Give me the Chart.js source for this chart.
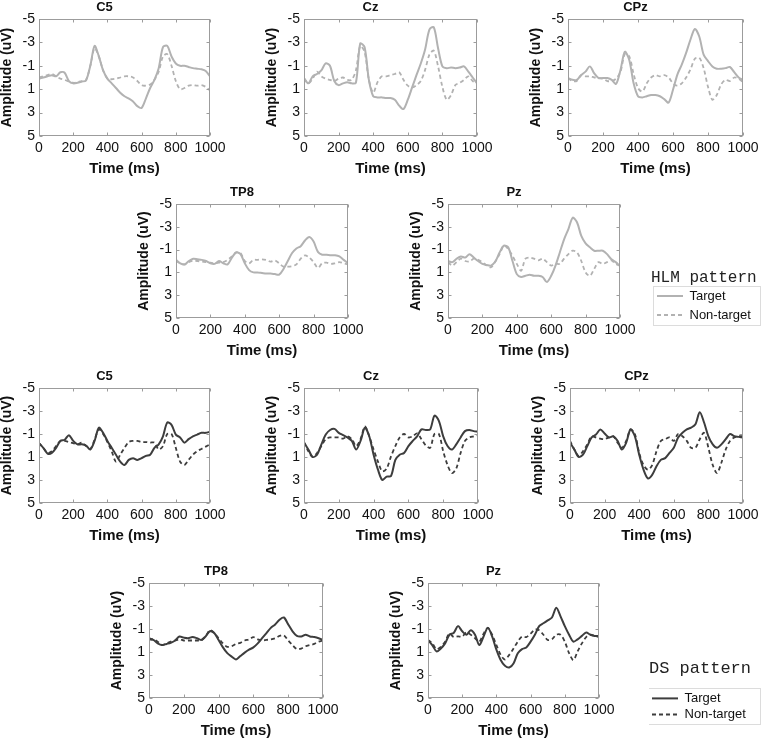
<!DOCTYPE html>
<html>
<head>
<meta charset="utf-8">
<script src="https://cdn.jsdelivr.net/npm/chart.js@4.4.1/dist/chart.umd.min.js"></script>
<style>
  html, body { margin: 0; padding: 0; background: #fff; overflow: hidden; }
  #page { position: relative; width: 761px; height: 739px; }
  #page canvas { position: absolute; }
</style>
</head>
<body>
<div id="page"></div>
<script>
// ---- data ----
const timeMs = [0,25,50,75,100,125,150,175,200,225,250,275,300,325,350,375,400,425,450,475,500,
                525,550,575,600,625,650,675,700,725,750,775,800,825,850,875,900,925,950,975,1000];
const ampTicks = [-5, -3, -1, 1, 3, 5];
const timeTicks = [0, 200, 400, 600, 800, 1000];

// HLM pattern
const hlmC5Target     = [0.1,0.0,-0.1,-0.2,-0.1,-0.45,-0.4,0.3,0.5,0.45,0.35,0.25,-1.0,-2.7,-1.8,-0.6,0.1,0.5,0.9,1.3,1.6,1.8,2.05,2.45,2.6,1.8,0.9,0.2,-0.8,-2.6,-2.7,-1.8,-1.2,-1.0,-1.0,-0.9,-0.8,-0.75,-0.7,-0.55,-0.1];
const hlmC5NonTarget  = [0.0,-0.1,-0.2,-0.3,-0.1,0.1,0.2,0.35,0.45,0.4,0.3,0.2,-1.0,-2.5,-1.8,-0.6,0.1,0.15,0.1,0.0,-0.1,-0.1,0.0,0.3,0.65,0.7,0.6,0.2,-0.5,-1.8,-2.0,-1.0,0.3,1.0,0.9,0.7,0.65,0.7,0.65,0.8,1.1];
const hlmCzTarget     = [0.05,0.5,-0.1,-0.3,-0.6,-1.2,-1.0,0.3,0.65,0.5,0.4,0.5,0.45,-2.9,-2.6,0.2,1.6,1.7,1.7,1.75,1.75,1.9,2.4,2.7,1.9,0.85,-0.2,-1.2,-2.4,-4.1,-4.3,-2.5,-0.95,-0.8,-0.85,-0.8,-0.85,-0.95,-0.5,0.0,0.5];
const hlmCzNonTarget  = [0.1,0.5,0.1,-0.5,-0.1,0.1,0.2,0.3,0.1,0.0,0.2,0.2,-0.6,-2.7,-2.2,0.2,1.3,0.4,-0.1,-0.1,-0.2,-0.3,-0.45,0.2,0.7,0.85,0.65,0.3,-0.65,-1.95,-2.3,-0.95,0.8,1.9,1.5,0.65,0.45,0.2,-0.1,0.3,0.5];
const hlmCPzTarget    = [0.05,0.2,0.2,-0.2,-0.5,-0.95,-0.35,0.05,0.05,0.05,0.2,0.55,-0.65,-2.2,-1.5,0.5,1.6,1.7,1.6,1.5,1.5,1.6,1.85,2.15,1.05,-0.25,-1.1,-2.1,-3.25,-4.15,-3.5,-1.95,-1.4,-0.95,-0.75,-0.75,-0.8,-0.9,-0.45,0.0,0.2];
const hlmCPzNonTarget = [0.05,0.3,0.3,-0.2,-0.1,-0.1,0.0,0.05,0.1,0.3,0.3,0.1,-0.5,-2.0,-1.8,-0.3,0.9,1.2,0.5,0.0,-0.2,-0.1,-0.2,0.0,0.5,0.7,0.5,0.0,-0.7,-1.6,-1.7,-0.8,0.8,1.9,1.5,0.6,0.2,0.3,0.0,0.1,0.4];
const hlmTP8Target    = [-0.1,0.2,0.3,0.0,-0.2,-0.15,-0.1,0.0,0.2,0.25,0.0,0.2,0.3,-0.3,-0.75,-0.6,0.2,0.8,1.0,1.0,1.05,1.1,1.1,1.15,1.2,0.7,0.0,-0.7,-1.1,-1.3,-1.8,-2.1,-1.7,-0.8,-0.55,-0.55,-0.5,-0.5,-0.4,-0.1,0.2];
const hlmTP8NonTarget = [0.0,0.2,0.3,0.1,-0.05,0.0,0.05,0.1,0.15,0.2,0.15,0.1,-0.1,-0.4,-0.75,-0.7,0.0,0.2,-0.1,-0.1,-0.15,-0.1,0.05,-0.05,0.2,0.5,0.5,0.45,0.3,-0.2,-0.5,-0.3,0.1,0.6,0.2,0.15,0.25,0.2,0.1,0.2,0.3];
const hlmPzTarget     = [0.0,0.1,-0.2,-0.4,-0.3,-0.6,-0.3,0.0,0.25,0.35,0.4,0.05,-0.75,-1.35,-1.2,0.0,1.15,1.4,1.3,1.2,1.3,1.3,1.4,1.85,1.3,0.4,-0.75,-1.9,-2.8,-3.8,-3.4,-2.2,-1.55,-1.2,-0.9,-0.9,-0.9,-0.6,-0.15,0.1,0.45];
const hlmPzNonTarget  = [0.1,0.4,0.1,-0.2,0.0,0.05,-0.2,-0.1,0.1,0.4,0.55,0.05,-0.6,-1.35,-1.05,-0.45,0.25,0.85,-0.2,-0.3,-0.2,-0.05,-0.2,0.1,0.4,0.25,0.25,-0.2,-0.6,-0.9,-0.75,0.0,1.0,1.3,0.7,0.1,0.25,0.1,-0.05,0.25,0.4];

// DS pattern
const dsC5Target      = [-0.2,0.2,0.7,0.65,0.2,-0.4,-0.5,-0.9,-0.4,-0.1,-0.1,0.0,0.35,-0.4,-1.55,-1.1,-0.4,0.2,0.8,1.4,1.7,1.25,1.1,1.25,1.1,0.9,0.8,0.2,-0.1,-0.8,-2.0,-1.8,-0.95,-0.7,-0.25,-0.55,-0.8,-0.95,-1.1,-1.1,-1.2];
const dsC5NonTarget   = [-0.2,0.2,0.65,0.5,0.05,-0.4,-0.4,-0.3,-0.2,-0.1,-0.25,0.05,0.3,-0.5,-1.4,-1.0,-0.3,0.5,1.4,0.8,0.2,-0.3,-0.4,-0.4,-0.3,-0.3,-0.25,-0.25,0.35,0.05,-1.0,-1.0,0.2,1.4,1.7,1.25,0.8,0.5,0.3,0.1,-0.1];
const dsCzTarget      = [-0.25,0.35,1.0,0.8,-0.1,-0.95,-1.35,-1.45,-1.1,-0.9,-0.7,-0.4,0.35,-0.4,-1.55,-0.8,0.8,2.1,3.0,2.7,2.65,1.25,0.8,0.65,0.05,-0.4,-0.8,-1.4,-1.35,-1.4,-2.6,-2.15,-0.8,0.05,0.35,-0.1,-0.7,-1.25,-1.35,-1.25,-1.2];
const dsCzNonTarget   = [-0.3,0.5,1.0,0.65,0.05,-0.55,-0.7,-0.7,-0.7,-0.6,-0.8,-0.55,0.05,-0.55,-1.65,-0.8,0.35,1.4,2.25,2.0,0.95,0.05,-0.7,-1.0,-0.7,-0.8,-1.05,-0.55,0.0,0.2,-1.0,-1.0,0.5,1.7,2.4,2.0,0.65,-0.4,-0.7,-0.8,-0.9];
const dsCPzTarget     = [-0.25,0.35,1.0,0.8,0.05,-0.7,-0.95,-1.4,-1.05,-0.7,-0.8,-0.4,0.35,-0.25,-1.4,-0.8,0.8,2.1,2.85,2.55,1.8,1.25,1.1,0.65,0.2,-0.7,-1.1,-1.4,-1.55,-1.85,-2.9,-2.0,-0.8,-0.1,0.2,-0.1,-0.55,-1.0,-0.8,-0.75,-0.7];
const dsCPzNonTarget  = [-0.4,0.35,0.9,0.5,-0.1,-0.8,-0.7,-0.6,-0.55,-0.7,-0.8,-0.25,0.2,-0.4,-1.4,-1.0,0.65,1.7,2.1,1.7,0.5,-0.4,-0.55,-0.7,-0.4,-1.0,-0.8,-0.4,0.2,0.2,-0.55,-1.1,0.2,1.7,2.4,1.5,0.35,-0.4,-0.7,-0.8,-0.8];
const dsTP8Target     = [-0.1,-0.05,0.25,0.4,0.3,0.2,0.0,-0.35,-0.25,-0.2,-0.3,-0.2,-0.05,-0.35,-0.8,-0.65,-0.05,0.6,1.1,1.4,1.65,1.35,1.05,0.8,0.6,0.25,-0.2,-0.65,-1.1,-1.4,-1.8,-2.0,-1.4,-0.8,-0.4,-0.35,-0.5,-0.35,-0.3,-0.2,-0.05];
const dsTP8NonTarget  = [-0.2,-0.1,0.1,0.4,0.25,0.1,0.0,-0.1,0.0,0.0,0.0,0.0,0.0,-0.35,-0.9,-0.65,-0.2,0.25,0.55,0.5,0.3,0.2,0.0,-0.1,-0.3,-0.1,0.0,-0.05,-0.1,-0.2,-0.4,-0.45,0.0,0.4,0.75,0.7,0.5,0.4,0.3,0.1,0.0];
const dsPzTarget      = [-0.05,0.4,0.95,0.7,0.25,-0.5,-0.65,-1.25,-0.8,-0.5,-0.9,-0.5,0.4,-0.35,-1.1,-0.35,0.8,1.7,2.2,2.35,2.0,1.1,0.75,0.6,0.1,-0.5,-1.25,-1.5,-1.75,-2.0,-2.85,-2.1,-1.25,-0.5,0.1,-0.1,-0.4,-0.7,-0.5,-0.4,-0.4];
const dsPzNonTarget   = [-0.05,0.25,0.75,0.55,0.1,-0.6,-0.3,-0.35,-0.35,-0.7,-0.5,-0.2,0.1,-0.6,-1.1,-0.5,0.4,1.25,1.65,1.25,0.7,0.1,-0.35,-0.3,-0.6,-0.95,-0.9,-0.5,-0.05,-0.1,-0.5,-0.5,0.1,1.1,1.7,0.95,0.25,-0.3,-0.5,-0.4,-0.3];

// ---- look ----
const HLM_GREY = '#b2b2b2';
const DS_GREY = '#3d3d3d';
const Y_AXIS_W = 40;   // room left of the plot box
const TITLE_H = 19;    // room above the plot box
const X_AXIS_H = 45;   // room below the plot box
const PAD_R = 22;      // room for the "1000" label

Chart.defaults.font.family = "'Liberation Sans', Arial, sans-serif";
Chart.defaults.color = '#111';

const page = document.getElementById('page');

// grey box round the plot with small inward ticks, matlab style
const plotFrame = {
  id: 'plotFrame',
  afterDatasetsDraw(chart) {
    const { ctx, chartArea: a, scales } = chart;
    const L = Math.round(a.left) + 0.5, T = Math.round(a.top) + 0.5;
    const R = Math.round(a.right) - 0.5, B = Math.round(a.bottom) - 0.5;
    ctx.save();
    ctx.strokeStyle = '#9c9c9c';
    ctx.lineWidth = 1;
    ctx.strokeRect(L, T, R - L, B - T);
    ctx.beginPath();
    scales.x.ticks.forEach(t => {
      const px = Math.round(scales.x.getPixelForValue(t.value)) + 0.5;
      ctx.moveTo(px, B); ctx.lineTo(px, B - 3);
      ctx.moveTo(px, T); ctx.lineTo(px, T + 3);
    });
    scales.y.ticks.forEach(t => {
      const py = Math.round(scales.y.getPixelForValue(t.value)) + 0.5;
      ctx.moveTo(L, py); ctx.lineTo(L + 3, py);
      ctx.moveTo(R, py); ctx.lineTo(R - 3, py);
    });
    ctx.stroke();
    ctx.restore();
  }
};

function makePanel(p) {
  const [l, t, r, b] = p.box;
  const canvas = document.createElement('canvas');
  canvas.width = (r - l) + Y_AXIS_W + PAD_R;
  canvas.height = (b - t) + TITLE_H + X_AXIS_H;
  canvas.style.left = (l - Y_AXIS_W) + 'px';
  canvas.style.top = (t - TITLE_H) + 'px';
  page.appendChild(canvas);

  const pts = vals => timeMs.map((x, i) => ({ x, y: vals[i] }));

  new Chart(canvas, {
    type: 'line',
    data: {
      datasets: [
        { label: 'Target', data: pts(p.target), borderColor: p.color, borderWidth: 2, pointRadius: 0, tension: 0.3 },
        { label: 'Non-target', data: pts(p.nonTarget), borderColor: p.color, borderWidth: 1.8, borderDash: [4, 3], pointRadius: 0, tension: 0.3 }
      ]
    },
    options: {
      responsive: false,
      animation: false,
      events: [],
      layout: { padding: { left: 0, right: PAD_R, top: 0, bottom: 0 } },
      plugins: {
        legend: { display: false },
        tooltip: { enabled: false },
        title: {
          display: true, text: p.title, color: '#111',
          font: { size: 13, weight: 'bold' },
          padding: { top: 0, bottom: 3.4 }
        }
      },
      scales: {
        x: {
          type: 'linear', min: 0, max: 1000,
          afterBuildTicks: s => { s.ticks = timeTicks.map(v => ({ value: v })); },
          afterFit: s => { s.height = X_AXIS_H; },
          grid: { display: false, drawTicks: false },
          border: { display: false },
          ticks: { padding: 4, font: { size: 14 }, color: '#111', maxRotation: 0, autoSkip: false, callback: v => String(v) },
          title: { display: true, text: 'Time (ms)', color: '#111', font: { size: 15, weight: 'bold' }, padding: { top: 0, bottom: 3 } }
        },
        y: {
          type: 'linear', reverse: true, min: -5, max: 5,
          afterBuildTicks: s => { s.ticks = ampTicks.map(v => ({ value: v })); },
          afterFit: s => { s.width = Y_AXIS_W; },
          grid: { display: false, drawTicks: false },
          border: { display: false },
          ticks: { padding: 4, font: { size: 14 }, color: '#111', callback: v => String(v) },
          title: { display: true, text: 'Amplitude (uV)', color: '#111', font: { size: 14, weight: 'bold' }, padding: { top: 0, bottom: 0 } }
        }
      }
    },
    plugins: [plotFrame]
  });
}

// light box round the legend entries
const legendFrame = {
  id: 'legendFrame',
  afterDraw(chart) {
    const boxes = chart.legend && chart.legend.legendHitBoxes;
    if (!boxes || !boxes.length) return;
    const top = Math.min(...boxes.map(h => h.top)) - 4;
    const bottom = Math.max(...boxes.map(h => h.top + h.height)) + 3;
    const left = Math.min(...boxes.map(h => h.left)) - 4;
    const right = chart.width - 1;
    const { ctx } = chart;
    ctx.save();
    ctx.strokeStyle = '#dcdcdc';
    ctx.lineWidth = 1;
    ctx.strokeRect(Math.round(left) + 0.5, Math.round(top) + 0.5, Math.round(right - left), Math.round(bottom - top));
    ctx.restore();
  }
};

function makeLegend(g) {
  const canvas = document.createElement('canvas');
  canvas.width = g.w; canvas.height = g.h;
  canvas.style.left = g.x + 'px';
  canvas.style.top = g.y + 'px';
  page.appendChild(canvas);
  new Chart(canvas, {
    type: 'line',
    data: {
      datasets: [
        { label: 'Target', data: [], borderColor: g.color, borderWidth: 2 },
        { label: 'Non-target', data: [], borderColor: g.color, borderWidth: 2, borderDash: [4, 3] }
      ]
    },
    options: {
      responsive: false,
      animation: false,
      events: [],
      layout: { padding: 0 },
      scales: { x: { display: false }, y: { display: false } },
      plugins: {
        tooltip: { enabled: false },
        legend: {
          display: true, position: 'top', align: 'start', maxHeight: 200, maxWidth: 200,
          title: {
            display: true, text: g.title, position: 'start', color: '#222',
            font: { family: "'Liberation Mono', 'DejaVu Sans Mono', monospace", size: g.titleSize, lineHeight: g.titleLine },
            padding: { top: 0, bottom: g.titleGap }
          },
          labels: {
            usePointStyle: true, pointStyle: 'line', pointStyleWidth: 26,
            font: { size: 13 }, color: '#111', padding: g.rowGap,
            generateLabels: chart => Chart.defaults.plugins.legend.labels.generateLabels(chart).map((item, i) => ({
              ...item,
              lineDash: chart.data.datasets[i].borderDash || [],
              lineWidth: 2,
              strokeStyle: g.color
            }))
          }
        }
      }
    },
    plugins: [legendFrame]
  });
}

const panels = [
  { title: 'C5',  target: hlmC5Target,  nonTarget: hlmC5NonTarget,  color: HLM_GREY, box: [39, 19, 210, 136] },
  { title: 'Cz',  target: hlmCzTarget,  nonTarget: hlmCzNonTarget,  color: HLM_GREY, box: [304, 19, 477, 136] },
  { title: 'CPz', target: hlmCPzTarget, nonTarget: hlmCPzNonTarget, color: HLM_GREY, box: [568, 19, 743, 136] },
  { title: 'TP8', target: hlmTP8Target, nonTarget: hlmTP8NonTarget, color: HLM_GREY, box: [176, 204, 348, 318] },
  { title: 'Pz',  target: hlmPzTarget,  nonTarget: hlmPzNonTarget,  color: HLM_GREY, box: [448, 204, 620, 318] },
  { title: 'C5',  target: dsC5Target,   nonTarget: dsC5NonTarget,   color: DS_GREY,  box: [39, 388, 210, 503] },
  { title: 'Cz',  target: dsCzTarget,   nonTarget: dsCzNonTarget,   color: DS_GREY,  box: [304, 388, 478, 503] },
  { title: 'CPz', target: dsCPzTarget,  nonTarget: dsCPzNonTarget,  color: DS_GREY,  box: [570, 388, 743, 503] },
  { title: 'TP8', target: dsTP8Target,  nonTarget: dsTP8NonTarget,  color: DS_GREY,  box: [149, 583, 323, 698] },
  { title: 'Pz',  target: dsPzTarget,   nonTarget: dsPzNonTarget,   color: DS_GREY,  box: [428, 583, 599, 698] }
];
panels.forEach(makePanel);

makeLegend({ title: 'HLM pattern', color: HLM_GREY, x: 651, y: 270, w: 110, h: 66, titleSize: 16, titleLine: 0.85, titleGap: 0, rowGap: 6 });
makeLegend({ title: 'DS pattern', color: DS_GREY, x: 649, y: 660, w: 112, h: 72, titleSize: 17, titleLine: 1.2, titleGap: 8.5, rowGap: 3 });
</script>
</body>
</html>
